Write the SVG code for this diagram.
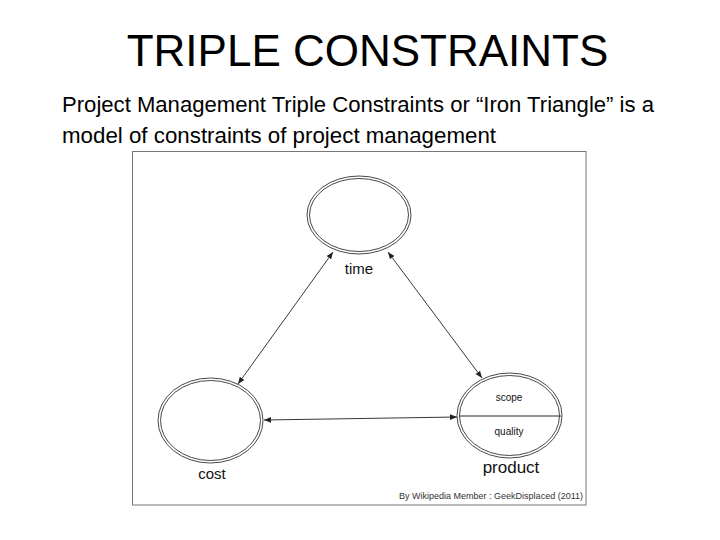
<svg xmlns="http://www.w3.org/2000/svg" width="720" height="540" viewBox="0 0 720 540">
<style>
.title{font-family:"Liberation Sans",Arial,sans-serif;font-size:44px;fill:#000}
.body{font-family:"Liberation Sans",Arial,sans-serif;font-size:22px;fill:#000}
.lbl{font-family:"Liberation Sans",Arial,sans-serif;fill:#111;text-anchor:middle}
.ring{fill:none;stroke:#333;stroke-width:0.9}
.conn{stroke:#222;stroke-width:0.9;fill:none;marker-start:url(#ah);marker-end:url(#ah)}
</style>
<defs>
<marker id="ah" viewBox="0 0 10 10" refX="10" refY="5" markerWidth="7" markerHeight="7" markerUnits="userSpaceOnUse" orient="auto-start-reverse">
<path d="M0,1 L10,5 L0,9 z" fill="#222"/>
</marker>
</defs>
<rect width="720" height="540" fill="#fff"/>
<text class="title" x="367.5" y="66" text-anchor="middle">TRIPLE CONSTRAINTS</text>
<text class="body" x="62" y="112" textLength="592" lengthAdjust="spacingAndGlyphs">Project Management Triple Constraints or “Iron Triangle” is a</text>
<text class="body" x="62" y="143" textLength="434" lengthAdjust="spacingAndGlyphs">model of constraints of project management</text>
<rect id="frame" x="132.5" y="151.5" width="453.5" height="353.5" fill="#fff" stroke="#777" stroke-width="1"/>
<g id="connectors">
<line class="conn" x1="333" y1="252" x2="238" y2="384"/>
<line class="conn" x1="388" y1="252" x2="482" y2="378"/>
<line class="conn" x1="264" y1="420" x2="457" y2="417"/>
</g>
<g id="time">
<ellipse class="ring" cx="359" cy="215" rx="52" ry="39"/>
<ellipse class="ring" cx="359" cy="215" rx="49.5" ry="36.5"/>
<text class="lbl" x="359" y="274" font-size="15">time</text>
</g>
<g id="cost">
<ellipse class="ring" cx="210.5" cy="420.5" rx="52.5" ry="42.5"/>
<ellipse class="ring" cx="210.5" cy="420.5" rx="50" ry="40"/>
<text class="lbl" x="212" y="479" font-size="15">cost</text>
</g>
<g id="product">
<ellipse class="ring" cx="509.5" cy="415.5" rx="52.5" ry="42.5"/>
<ellipse class="ring" cx="509.5" cy="415.5" rx="50" ry="40"/>
<line x1="459.5" y1="416" x2="561" y2="416" stroke="#222" stroke-width="1"/>
<text class="lbl" x="509" y="401" font-size="10">scope</text>
<text class="lbl" x="509" y="435" font-size="10">quality</text>
<text class="lbl" x="511" y="473" font-size="17">product</text>
</g>
<text x="583" y="499" font-family="Liberation Sans, Arial, sans-serif" font-size="9" fill="#333" text-anchor="end">By Wikipedia Member : GeekDisplaced (2011)</text>
</svg>
